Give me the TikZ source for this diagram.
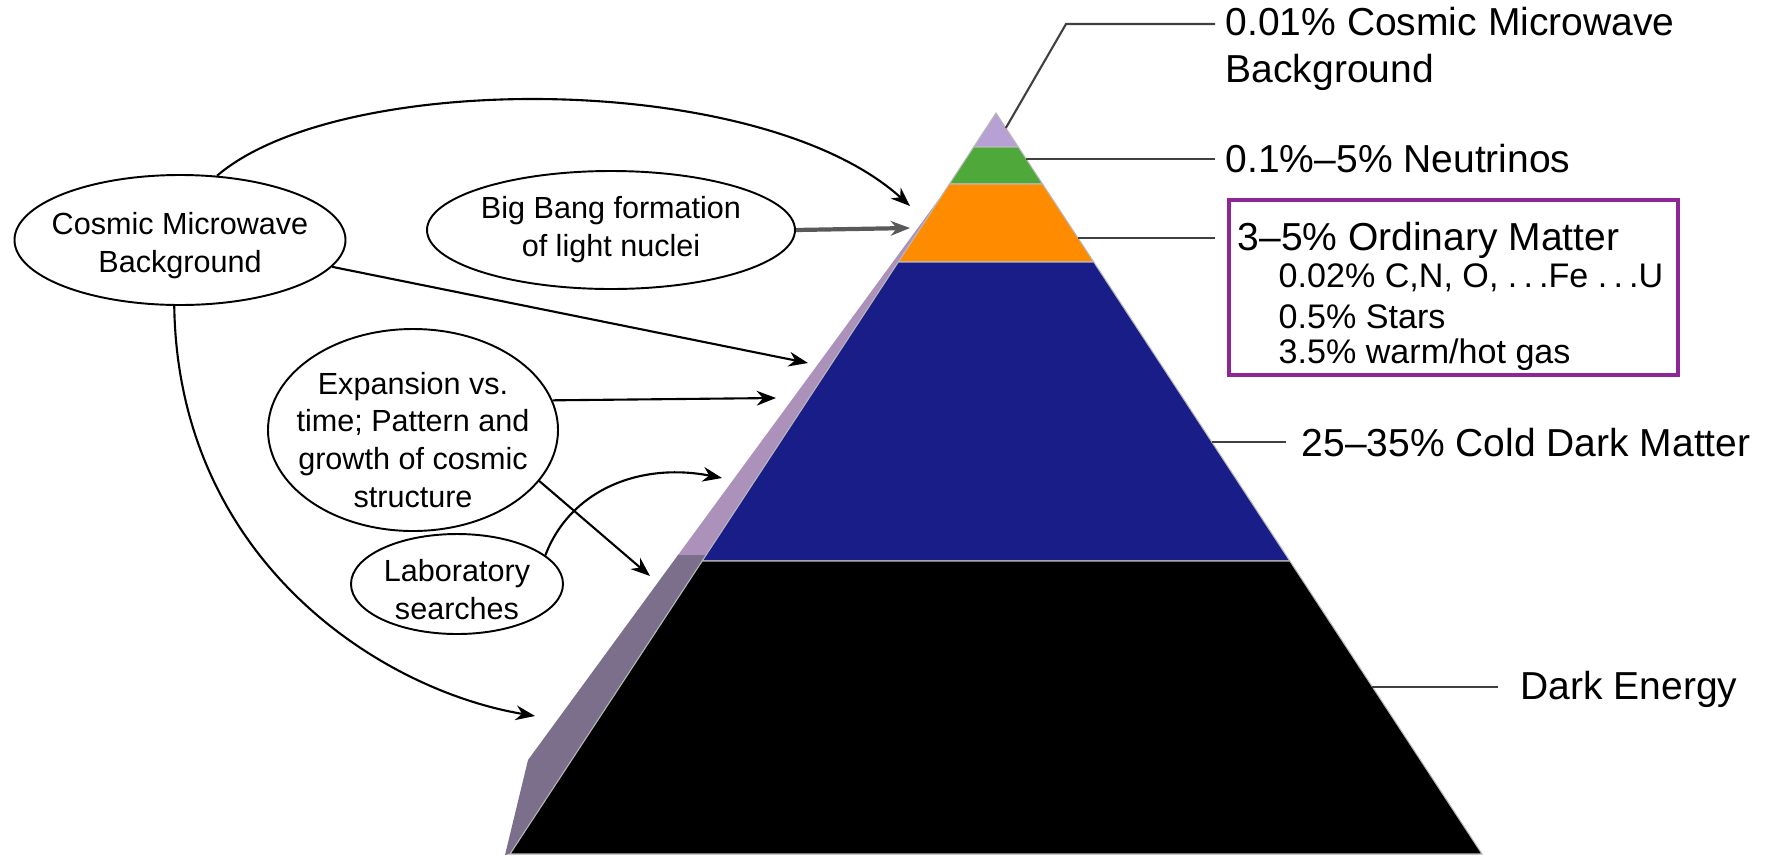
\documentclass[tikz,border=0pt]{standalone}
\usepackage{fontspec}
\setmainfont{Liberation Sans}
\usetikzlibrary{positioning,calc,shapes.geometric,arrows.meta}

\definecolor{tiplilac}{RGB}{182,160,212}
\definecolor{nugreen}{RGB}{78,168,58}
\definecolor{ordorange}{RGB}{255,140,0}
\definecolor{cdmblue}{RGB}{24,29,135}
\definecolor{sidelight}{RGB}{172,146,186}
\definecolor{sidedark}{RGB}{124,111,140}
\definecolor{ompurple}{RGB}{142,38,150}

\newcommand{\dotsp}{\hspace{0.18em}}

\tikzset{
  bubble/.style={draw, ellipse, line width=0.55pt, inner sep=0pt},
  bubtxt/.style={align=center, inner sep=0pt, font=\fontsize{8.7}{10.8}\selectfont},
  lbl/.style={anchor=west, inner sep=1mm, align=left, font=\fontsize{11.1}{13.6}\selectfont},
  sublbl/.style={anchor=west, inner sep=1mm, font=\fontsize{9.7}{11}\selectfont},
  leader/.style={draw=black!75, line width=0.6pt},
  link/.style={-{Stealth[length=5.5pt,width=4.2pt]}, line width=0.6pt},
  layer/.style={draw=gray!55, line width=0.3pt},
}

\begin{document}
\begin{tikzpicture}[x=0.1mm,y=-0.1mm]
	\useasboundingbox (0,0) rectangle (1769,859);
	
	% pyramid
	\coordinate (apex) at (996,113);
	\coordinate (baseL) at (510,854);
	\coordinate (baseR) at (1482,854);
	\foreach \lvl/\t in {a/0.0459,b/0.0958,c/0.2011,d/0.6046}{
		\coordinate (L\lvl) at ($(apex)!\t!(baseL)$);
		\coordinate (R\lvl) at ($(apex)!\t!(baseR)$);
	}
	
	% side face
	\coordinate (sideTop) at ($(apex)!0.1066!(baseL)$);
	\coordinate (sideMid) at ($(apex)!0.5965!(baseL)$);
	\fill[sidelight] (sideTop) -- (678,555) -- (sideMid) -- cycle;
	\fill[sidedark] (678,555) -- (528,760) -- (505,855) -- (baseL) -- (sideMid) -- cycle;
	
	\filldraw[layer,fill=tiplilac] (apex) -- (Ra) -- (La) -- cycle;
	\filldraw[layer,fill=nugreen] (La) -- (Ra) -- (Rb) -- (Lb) -- cycle;
	\filldraw[layer,fill=ordorange] (Lb) -- (Rb) -- (Rc) -- (Lc) -- cycle;
	\filldraw[layer,fill=cdmblue] (Lc) -- (Rc) -- (Rd) -- (Ld) -- cycle;
	\filldraw[layer,fill=black] (Ld) -- (Rd) -- (baseR) -- (baseL) -- cycle;
	
	% labels on the right
	\node[lbl] (lblcmb) at (1215,49) {0.01\% Cosmic Microwave\\Background};
	\node[lbl] (lblnu) at (1215,159) {0.1\%--5\% Neutrinos};
	\node[draw=ompurple,line width=1.1pt,minimum width=44.9mm,minimum height=17.5mm,anchor=north west,inner sep=0pt] (ombox) at (1227,198) {};
	\node[lbl] (omtitle) at (1227,240) {3--5\% Ordinary Matter};
	\node[sublbl] (omsub1) at (1268,278) {0.02\% C,N, O, .\dotsp.\dotsp.Fe .\dotsp.\dotsp.U};
	\node[sublbl] (omsub2) at (1268,317) {0.5\% Stars};
	\node[sublbl] (omsub3) at (1268,355) {3.5\% warm/hot gas};
	\node[lbl] (lblcdm) at (1291,443) {25--35\% Cold Dark Matter};
	\node[lbl] (lblde) at (1510,689) {Dark Energy};
	
	\coordinate (tipR) at ($(apex)!0.0202!(baseR)$);
	\coordinate (tipKnee) at (1066,24);
	\coordinate (nuR) at ($(apex)!0.0621!(baseR)$);
	\coordinate (omR) at ($(apex)!0.1687!(baseR)$);
	\coordinate (cdmR) at ($(apex)!0.444!(baseR)$);
	\coordinate (deR) at ($(apex)!0.7746!(baseR)$);
	
	\draw[leader] (tipR) -- (tipKnee) -- (tipKnee -| lblcmb.west);
	\draw[leader] (nuR) -- (nuR -| lblnu.west);
	\draw[leader,shorten >=1.2mm] (omR) -- (omR -| ombox.west);
	\draw[leader,shorten >=0.5mm] (cdmR) -- (cdmR -| lblcdm.west);
	\draw[leader,shorten >=1.2mm] (deR) -- (deR -| lblde.west);
	
	% probes on the left
	\node[bubble,minimum width=33.1mm,minimum height=13mm] (cmb) at (180,240) {};
	\node[bubtxt] (cmbtxt) at ([yshift=-0.6mm]cmb.center) {Cosmic Microwave\\Background};
	
	\node[bubble,minimum width=36.8mm,minimum height=11.8mm] (bbn) at (611,230) {};
	\node[bubtxt] (bbntxt) at (bbn.center) {Big Bang formation\\of light nuclei};
	
	\node[bubble,minimum width=29mm,minimum height=20.2mm] (exp) at (413,430) {};
	\node[bubtxt] (exptxt) at ([yshift=-1mm]exp.center) {Expansion vs.\\time; Pattern and\\growth of cosmic\\structure};
	
	\node[bubble,minimum width=21.2mm,minimum height=10mm] (lab) at (457,584) {};
	\node[bubtxt] (labtxt) at ([yshift=-0.6mm]lab.center) {Laboratory\\searches};
	
	\coordinate (toOrangeA) at (910,206);
	\coordinate (toOrangeB) at (910,228);
	\coordinate (toBlueA) at (808,363);
	\coordinate (toBlueB) at (776,398);
	\coordinate (toBlueC) at (722,478);
	\coordinate (toBlackA) at (650,576);
	\coordinate (toBlackB) at (535,716);
	
	\draw[link] (cmb.60) .. controls (340,70) and (760,70) .. (toOrangeA);
	\draw[link,draw=black!65,line width=1.2pt] (bbn.east) -- (toOrangeB);
	\draw[link] (cmb.-10) -- (toBlueA);
	\draw[link] (cmb.-95) .. controls (178,560) and (380,690) .. (toBlackB);
	\draw[link] (exp.12) -- (toBlueB);
	\draw[link] (exp.-22) -- (toBlackA);
	\draw[link] (lab.18) .. controls (570,490) and (640,462) .. (toBlueC);
\end{tikzpicture}
\end{document}
